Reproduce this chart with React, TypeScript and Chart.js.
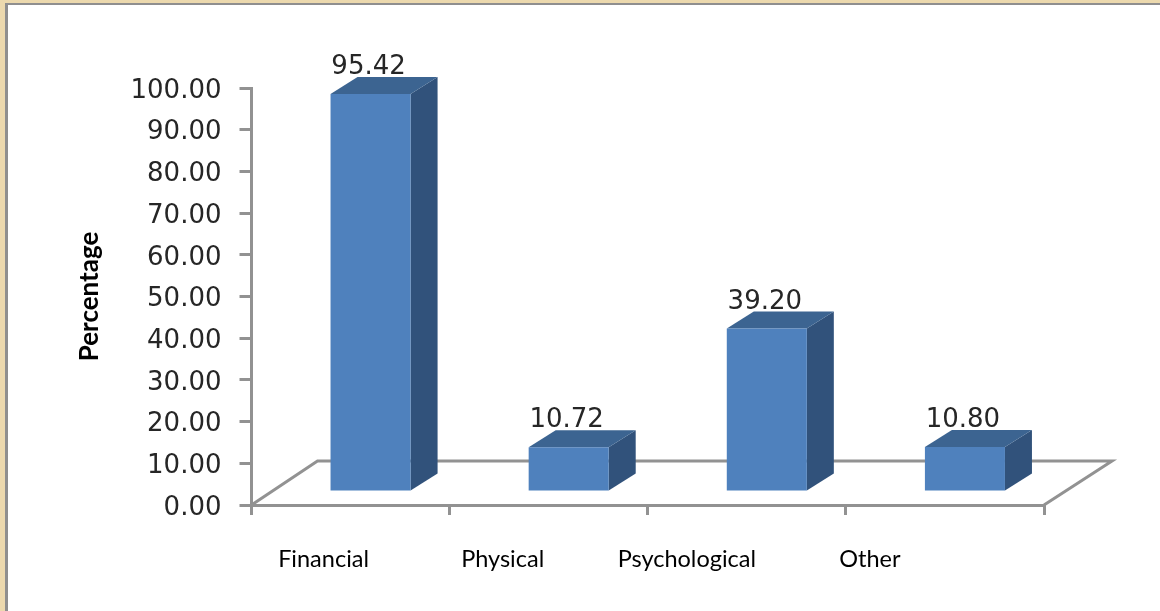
import { useEffect, useRef } from "react";
import { Chart, registerables } from "chart.js";

Chart.register(...registerables);

const categories = ["Financial", "Physical", "Psychological", "Other"];
const percentages = [95.42, 10.72, 39.2, 10.8];
const axisMax = 100;
const axisStep = 10;

// Hand-placed category captions sit left of their slots.
const captionShift = [-27, -46, -60, -75];

const PANEL = "#ffffff";
const PARCHMENT = "#ecd9ae";
const FRAME = "#8f8f8f";
const AXIS = "#929292";
const FRONT = "#4f81bd";
const TOP = "#3c6491";
const SIDE = "#31527b";

// Oblique projection: bars stand on a floor raised from the axis baseline.
const BAR_LIFT = { x: 20, y: -13 };
const BAR_DEPTH = { x: 27, y: -17 };
const FLOOR_DEPTH = { x: 66, y: -44 };

const poly = (ctx: CanvasRenderingContext2D, pts: number[][]) => {
  ctx.beginPath();
  pts.forEach(([x, y], i) => (i ? ctx.lineTo(x, y) : ctx.moveTo(x, y)));
};

const pseudo3d = {
  id: "pseudo3d",
  beforeDraw(chart: any) {
    const { ctx, width, height } = chart;
    ctx.save();
    ctx.fillStyle = PARCHMENT;
    ctx.fillRect(0, 0, width, height);
    ctx.fillStyle = FRAME;
    ctx.fillRect(5, 3, width - 5, height - 3);
    ctx.fillStyle = PANEL;
    ctx.fillRect(8, 5, width - 8, height - 5);
    ctx.restore();
  },
  beforeDatasetsDraw(chart: any) {
    const { ctx, chartArea } = chart;
    const { left, right, bottom } = chartArea;
    ctx.save();
    ctx.strokeStyle = AXIS;
    ctx.lineWidth = 3;
    ctx.lineJoin = "miter";
    poly(ctx, [
      [left, bottom],
      [left + FLOOR_DEPTH.x, bottom + FLOOR_DEPTH.y],
      [right + FLOOR_DEPTH.x + 2, bottom + FLOOR_DEPTH.y],
      [right, bottom],
    ]);
    ctx.stroke();
    ctx.restore();
  },
  beforeDatasetDraw(chart: any) {
    const { ctx } = chart;
    ctx.save();
    ctx.translate(BAR_LIFT.x, BAR_LIFT.y);
    chart.getDatasetMeta(0).data.forEach((bar: any) => {
      const half = bar.width / 2;
      const l = bar.x - half;
      const r = bar.x + half;
      ctx.fillStyle = SIDE;
      poly(ctx, [
        [r, bar.y],
        [r + BAR_DEPTH.x, bar.y + BAR_DEPTH.y],
        [r + BAR_DEPTH.x, bar.base + BAR_DEPTH.y],
        [r, bar.base],
      ]);
      ctx.fill();
      ctx.fillStyle = TOP;
      poly(ctx, [
        [l, bar.y],
        [l + BAR_DEPTH.x, bar.y + BAR_DEPTH.y],
        [r + BAR_DEPTH.x, bar.y + BAR_DEPTH.y],
        [r, bar.y],
      ]);
      ctx.fill();
    });
  },
  afterDatasetDraw(chart: any) {
    chart.ctx.restore();
  },
  afterDatasetsDraw(chart: any) {
    const { ctx, scales } = chart;
    ctx.save();
    ctx.textAlign = "center";
    ctx.fillStyle = "#262626";
    ctx.font = "26px 'DejaVu Sans'";
    ctx.textBaseline = "alphabetic";
    chart.getDatasetMeta(0).data.forEach((bar: any, i: number) => {
      const x = bar.x + BAR_LIFT.x - 2;
      const y = bar.y + BAR_LIFT.y + BAR_DEPTH.y - 3;
      ctx.fillText(percentages[i].toFixed(2), x, y);
    });
    ctx.fillStyle = "#000000";
    ctx.font = "23.5px Lato";
    categories.forEach((name, i) => {
      ctx.fillText(name, scales.x.getPixelForValue(i) + captionShift[i], 567);
    });
    ctx.restore();
  },
};

export default function App() {
  const ref = useRef<HTMLCanvasElement>(null);

  useEffect(() => {
    document.body.style.margin = "0";
    const chart = new Chart(ref.current!, {
      type: "bar",
      data: {
        labels: categories,
        datasets: [
          {
            data: percentages,
            backgroundColor: FRONT,
            categoryPercentage: 1,
            barPercentage: 0.404,
            clip: false,
          } as any,
        ],
      },
      options: {
        responsive: false,
        animation: false,
        events: [],
        layout: { padding: { left: 74, top: 88, right: 116, bottom: 0 } },
        plugins: { legend: { display: false }, title: { display: false }, tooltip: { enabled: false } },
        scales: {
          x: {
            grid: { drawOnChartArea: false, color: AXIS, lineWidth: 3, tickLength: 10 },
            border: { color: AXIS, width: 3 },
            ticks: { display: false },
            afterFit: (s: any) => {
              s.height = 106;
            },
          },
          y: {
            min: 0,
            max: axisMax,
            grid: { drawOnChartArea: false, color: AXIS, lineWidth: 3, tickLength: 12 },
            border: { color: AXIS, width: 3 },
            ticks: {
              stepSize: axisStep,
              padding: 18,
              labelOffset: 3,
              color: "#262626",
              font: { family: "'DejaVu Sans'", size: 26 },
              callback: (v: any) => Number(v).toFixed(2),
            },
            title: {
              display: true,
              text: "Percentage",
              color: "#000000",
              font: { family: "Lato", size: 26, weight: "bold" },
              padding: 0,
            },
            afterFit: (s: any) => {
              s.width = 177.5;
            },
          },
        },
      },
      plugins: [pseudo3d],
    } as any);
    return () => chart.destroy();
  }, []);

  return <canvas ref={ref} width={1160} height={611} style={{ display: "block" }} />;
}
